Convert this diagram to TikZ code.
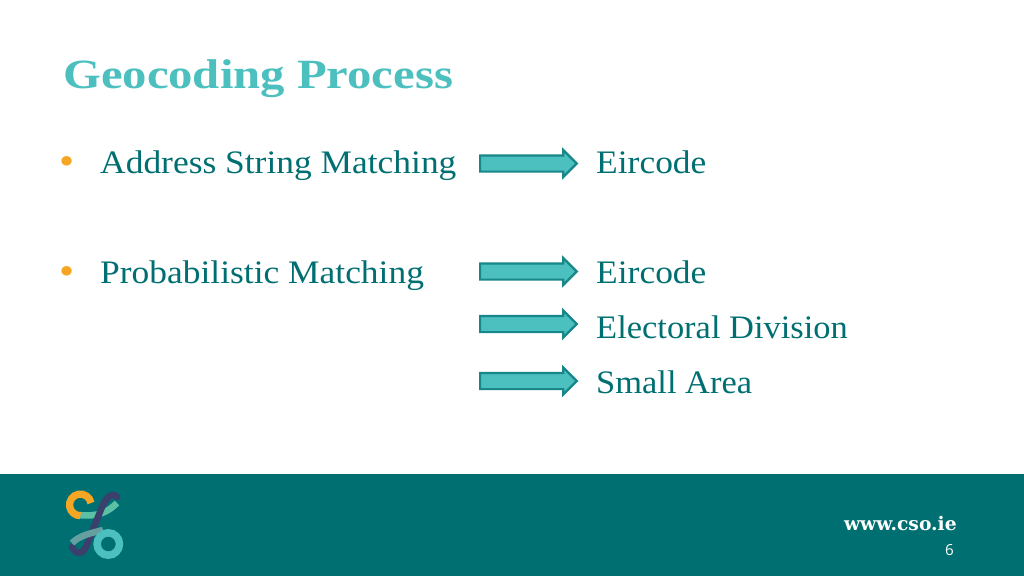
\documentclass[tikz,border=0pt]{standalone}
\usepackage{fontspec}
\setmainfont[FakeStretch=1.08]{Liberation Serif}
\newfontfamily\headfont[FakeStretch=1.17]{Liberation Serif}
\newfontfamily\listfont[FakeStretch=1.05]{Liberation Serif}
\newfontfamily\slabfont{DejaVu Serif}
\newfontfamily\pagefont{Open Sans}
\usetikzlibrary{shapes.arrows}
\definecolor{csoteal}{HTML}{006F72}
\definecolor{csotitle}{HTML}{4CBFBF}
\definecolor{csobullet}{HTML}{F5A623}
\definecolor{csonavy}{HTML}{3A3F6B}
\definecolor{csomint}{HTML}{5CC0A5}
\begin{document}
\begin{tikzpicture}[
    x=0.03cm, y=-0.03cm,
    title/.style={font=\fontsize{35.5}{40}\selectfont\headfont\bfseries, text=csotitle, anchor=base west, inner sep=0pt},
    item/.style={font=\fontsize{28}{32}\selectfont, text=csoteal, anchor=base west, inner sep=0pt},
    itemlong/.style={item, font=\fontsize{28}{32}\selectfont\listfont},
    bulletmark/.style={font=\fontsize{34}{36}\selectfont, text=csobullet, anchor=base west, inner sep=0pt},
    blockarrow/.style={
        draw=csoteal!70!csotitle, line width=1.9pt, fill=csotitle, single arrow,
        minimum height=2.9cm, minimum width=0.78cm,
        single arrow head extend=0.16cm, single arrow tip angle=90,
        inner xsep=0pt, inner ysep=0.21cm, anchor=west
    },
    logoline/.style={line width=5.6pt, line cap=round}
]
    \useasboundingbox (0,0) rectangle (1024,576);
    \fill[white] (0,0) rectangle (1024,576);

    % Title
    \node[title] (head) at (63,88) {Geocoding Process};

    % Left column
    \node[bulletmark] (b1) at (59,174) {•};
    \node[item] (addr) at (100,173) {Address String Matching};
    \node[bulletmark] (b2) at (59,284) {•};
    \node[item] (prob) at (100,283) {Probabilistic Matching};

    % Right column
    \node[item] (eir1) at (596,173) {Eircode};
    \node[item] (eir2) at (596,283) {Eircode};
    \node[itemlong] (ed) at (596,338) {Electoral Division};
    \node[itemlong] (sa) at (596,393) {Small Area};

    % Arrows
    \node[blockarrow] (a1) at (479,163.5) {};
    \node[blockarrow] (a2) at (479,271.5) {};
    \node[blockarrow] (a3) at (479,324) {};
    \node[blockarrow] (a4) at (479,381) {};

    % Footer band
    \fill[csoteal] (0,474) rectangle (1024,576);
    \node[font=\fontsize{16}{20}\selectfont\bfseries\slabfont, text=white, anchor=base east, inner sep=0pt] (web) at (957,530) {www.cso.ie};
    \node[font=\fontsize{13}{16}\selectfont\pagefont, text=white, anchor=base east, inner sep=0pt] (page) at (954,555) {6};

    % Logo
    \draw[logoline, csomint, line cap=butt] (79,515) .. controls (98,517) and (108,512) .. (117,503);
    \draw[line width=6.2pt, csobullet] (91,503) arc[start angle=-10, end angle=-270, radius=10.8];
    \draw[logoline, csonavy] (117,497) .. controls (112,492) and (107,496) .. (102,507)
        -- (88,542) .. controls (84,556) and (76,555) .. (72,547);
    \draw[logoline, csotitle!50!gray, line cap=butt] (72,543) .. controls (80,535) and (92,533) .. (103,530);
    \draw[line width=6.4pt, csotitle] (108.3,544) circle[radius=11.2];
\end{tikzpicture}
\end{document}
